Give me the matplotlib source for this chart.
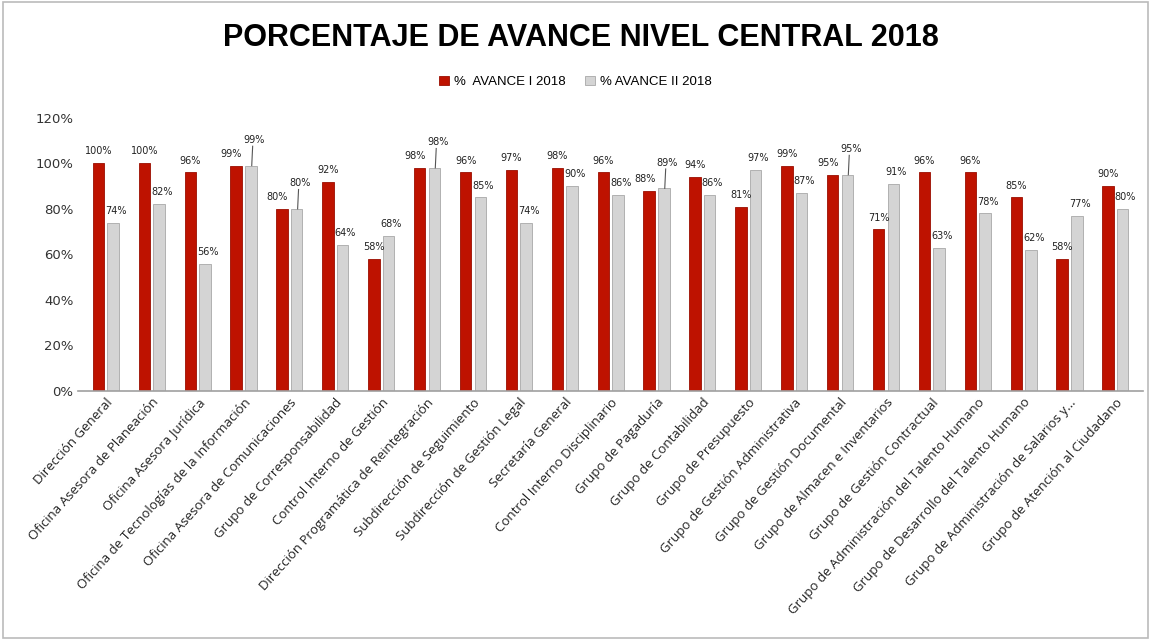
import matplotlib.pyplot as plt
import numpy as np
from matplotlib.patches import Rectangle

categories = ['Dirección General', 'Oficina Asesora de Planeación', 'Oficina Asesora Jurídica',
              'Oficina de Tecnologías de la Información', 'Oficina Asesora de Comunicaciones',
              'Grupo de Corresponsabilidad', 'Control Interno de Gestión',
              'Dirección Programática de Reintegración', 'Subdirección de Seguimiento',
              'Subdirección de Gestión Legal', 'Secretaría General', 'Control Interno Disciplinario',
              'Grupo de Pagaduría', 'Grupo de Contabilidad', 'Grupo de Presupuesto',
              'Grupo de Gestión Administrativa', 'Grupo de Gestión Documental',
              'Grupo de Almacen e Inventarios', 'Grupo de Gestión Contractual',
              'Grupo de Administración del Talento Humano', 'Grupo de Desarrollo del Talento Humano',
              'Grupo de Administración de Salarios y...', 'Grupo de Atención al Ciudadano']
avance_1 = [100, 100, 96, 99, 80, 92, 58, 98, 96, 97, 98, 96, 88, 94, 81, 99, 95, 71, 96, 96, 85, 58, 90]
avance_2 = [74, 82, 56, 99, 80, 64, 68, 98, 85, 74, 90, 86, 89, 86, 97, 87, 95, 91, 63, 78, 62, 77, 80]
series_names = ['%  AVANCE I 2018', '% AVANCE II 2018']

red = '#BE1200'
gray = '#D4D4D4'

fig = plt.figure(figsize=(11.51, 6.4), dpi=100)
ax = fig.add_axes([0.068, 0.389, 0.925, 0.427])

x = np.arange(len(categories))
w = 0.25
ax.bar(x - 0.16, avance_1, width=w, color=red, edgecolor='#9A0E00', linewidth=0.6, label=series_names[0])
ax.bar(x + 0.16, avance_2, width=w, color=gray, edgecolor='#A8A8A8', linewidth=0.6, label=series_names[1])

# data labels; when both bars are about the same height, lift the gray label
for xi, a, b in zip(x, avance_1, avance_2):
    if abs(a - b) <= 3:
        ax.text(xi - 0.26, a + 3, f'{a}%', ha='center', va='bottom', fontsize=7, color='#222222')
        ax.text(xi + 0.24, b + 9, f'{b}%', ha='center', va='bottom', fontsize=7, color='#222222')
        ax.plot([xi + 0.18, xi + 0.20], [b, b + 8.5], color='#555555', lw=0.8)
    else:
        ax.text(xi - 0.16, a + 3, f'{a}%', ha='center', va='bottom', fontsize=7, color='#222222')
        ax.text(xi + 0.22, b + 3, f'{b}%', ha='center', va='bottom', fontsize=7, color='#222222')

ax.set_ylim(0, 120)
ax.set_xlim(-0.6, len(categories) - 0.4)
ax.set_yticks(np.arange(0, 121, 20))
ax.set_yticklabels([f'{t}%' for t in range(0, 121, 20)], fontsize=9.5, color='#333333')
ax.set_xticks(x)
ax.set_xticklabels(categories, rotation=48, ha='right', rotation_mode='anchor', fontsize=9.5,
                   color='#222222', family='Open Sans')
ax.tick_params(axis='both', length=0)
for s in ['top', 'right', 'left']:
    ax.spines[s].set_visible(False)
ax.spines['bottom'].set_color('#A0A0A0')
ax.spines['bottom'].set_linewidth(1.2)

fig.text(0.505, 0.94, 'PORCENTAJE DE AVANCE NIVEL CENTRAL 2018', ha='center', va='center',
         fontsize=22, fontweight='bold', family='Liberation Sans')
fig.legend(loc='center', bbox_to_anchor=(0.5, 0.872), ncol=2, frameon=False,
           handlelength=0.7, handleheight=0.7, columnspacing=1.5, handletextpad=0.4,
           prop={'family': 'Liberation Sans', 'size': 9.5})

fig.patches.append(Rectangle((0.003, 0.003), 0.994, 0.994, transform=fig.transFigure,
                             fill=False, edgecolor='#BBBBBB', linewidth=1.2))

fig.savefig('out.png', dpi=100)
